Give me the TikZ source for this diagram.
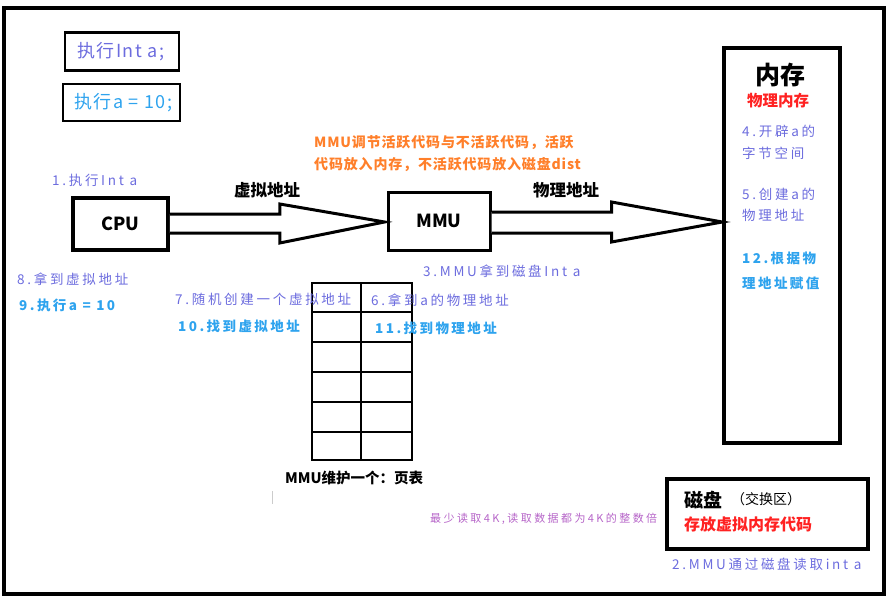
\documentclass[tikz,border=0pt]{standalone}
\usepackage{fontspec}
\setmainfont{Noto Sans CJK SC}
\usetikzlibrary{calc}
\definecolor{bp}{HTML}{6C6CDE}
\definecolor{lb}{HTML}{2EA3EE}
\definecolor{org}{HTML}{FF7F2A}
\definecolor{rd}{HTML}{FF2222}
\definecolor{pu}{HTML}{B665C8}
\newcommand{\lsp}[1]{\addfontfeature{LetterSpace=#1}}
\tikzset{
  box/.style={draw=black, line width=3pt, inner sep=0pt, fill=white},
  thinbox/.style={draw=black, line width=2.2pt, inner sep=0pt},
  hollow/.style={draw=black, line width=3pt, line join=miter, fill=white},
  lbl/.style={anchor=west, inner sep=0pt, font=\fontsize{13.5}{15}\selectfont\lsp{20}},
  lblb/.style={anchor=west, inner sep=0pt, text=lb, font=\bfseries\fontsize{13.5}{15}\selectfont\lsp{18}},
  bigb/.style={font=\bfseries\fontsize{18}{20}\selectfont}
}
\begin{document}
\begin{tikzpicture}[x=1pt,y=-1pt]
\useasboundingbox (0,0) rectangle (890,602);
% outer frame
\draw[line width=3.5pt] (4,8) rectangle (884,594);

% top-left boxes
\node[thinbox, minimum width=114pt, minimum height=38pt] (b1) at (122,51.5) {};
\node[lbl, text=bp, font=\fontsize{18}{20}\selectfont\lsp{8}] (t1) at (77,52) {执行Int a;};
\node[thinbox, minimum width=117pt, minimum height=37pt] (b2) at (121.5,102.5) {};
\node[lbl, text=lb, font=\fontsize{18}{20}\selectfont\lsp{8}] (t2) at (74,103) {执行a = 10;};

% CPU, MMU, memory
\node[box, line width=3.5pt, minimum width=95pt, minimum height=52pt, bigb] (cpu) at (120.5,224) {CPU};
\node[box, line width=3pt, minimum width=102pt, minimum height=58pt, bigb] (mmu) at (439,221) {MMU};
\node[box, line width=3.5pt, minimum width=116pt, minimum height=395pt] (mem) at (782,245.5) {};

% hollow arrows
\coordinate (a1s) at (cpu.east);
\coordinate (a1t) at (mmu.west);
\draw[hollow] ($(a1s)+(0,-10)$) -- ($(a1s)+(110,-10)$) -- ($(a1s)+(110,-20)$) -- ($(a1t)+(-2,1)$)
   -- ($(a1s)+(110,19)$) -- ($(a1s)+(110,9)$) -- ($(a1s)+(0,9)$);
\coordinate (a2s) at (mmu.east);
\coordinate (a2t) at (mem.west |- mmu.east);
\draw[hollow] ($(a2s)+(0,-9)$) -- ($(a2s)+(120,-9)$) -- ($(a2s)+(120,-19)$) -- ($(a2t)+(0,1)$)
   -- ($(a2s)+(120,21)$) -- ($(a2s)+(120,12)$) -- ($(a2s)+(0,12)$);

\node[font=\bfseries\fontsize{16.5}{18}\selectfont, inner sep=0pt] (va) at (267,190) {虚拟地址};
\node[font=\bfseries\fontsize{16.5}{18}\selectfont, inner sep=0pt] (pa) at (566,190) {物理地址};

% orange note
\node[lbl, text=org, font=\bfseries\fontsize{14}{16}\selectfont\lsp{6}] (o1) at (314,143) {MMU调节活跃代码与不活跃代码，活跃};
\node[lbl, text=org, font=\bfseries\fontsize{14}{16}\selectfont\lsp{6}] (o2) at (314,165) {代码放入内存，不活跃代码放入磁盘dist};

% memory contents
\node[font=\bfseries\fontsize{25}{27}\selectfont, inner sep=0pt] (memt) at (780,75) {内存};
\node[font=\bfseries\fontsize{15.5}{17}\selectfont, text=rd, inner sep=0pt] (memp) at (778,101) {物理内存};
\node[lbl, text=bp] (m4a) at (742,131) {4.开辟a的};
\node[lbl, text=bp] (m4b) at (742,153) {字节空间};
\node[lbl, text=bp] (m5a) at (742,194) {5.创建a的};
\node[lbl, text=bp] (m5b) at (742,215) {物理地址};
\node[lblb] (m12a) at (742,258) {12.根据物};
\node[lblb] (m12b) at (742,283) {理地址赋值};

% step labels
\node[lbl, text=bp] (s1) at (52,180) {1.执行Int a};
\node[lbl, text=bp] (s8) at (17,279) {8.拿到虚拟地址};
\node[lblb] (s9) at (19,305) {9.执行a = 10};
\node[lbl, text=bp] (s3) at (423,271) {3.MMU拿到磁盘Int a};

% page table
\draw[line width=2.5pt] (312,283) rectangle (412,460);
\draw[line width=2.5pt] (361,283) -- (361,460);
\foreach \yy in {312,342,372,402,432} \draw[line width=2.5pt] (312,\yy) -- (412,\yy);

\node[lbl, text=bp] (s7) at (175,299) {7.随机创建一个虚拟地址};
\node[lblb] (s10) at (178,326) {10.找到虚拟地址};
\node[lbl, text=bp] (s6) at (371,300) {6.拿到a的物理地址};
\node[lblb] (s11) at (375,328) {11.找到物理地址};

\node[lbl, font=\bfseries\fontsize{14.5}{16}\selectfont] (pt) at (285,478) {MMU维护一个：页表};
\draw[gray!40, line width=0.8pt] (272,491) -- (272,504);

\node[lbl, text=pu, font=\fontsize{11}{12}\selectfont\lsp{22}] (note) at (430,519) {最少读取4K,读取数据都为4K的整数倍};

% disk
\node[box, line width=3.5pt, minimum width=201pt, minimum height=70pt] (disk) at (767.5,514) {};
\node[lbl, font=\bfseries\fontsize{19}{21}\selectfont] (dk) at (684,500) {磁盘};
\node[lbl, font=\fontsize{14}{16}\selectfont] (dk2) at (731,499) {（交换区）};
\node[lbl, text=rd, font=\bfseries\fontsize{16}{18}\selectfont] (dk3) at (684,524) {存放虚拟内存代码};
\node[lbl, text=bp] (s2) at (672,564) {2.MMU通过磁盘读取int a};
\end{tikzpicture}
\end{document}
